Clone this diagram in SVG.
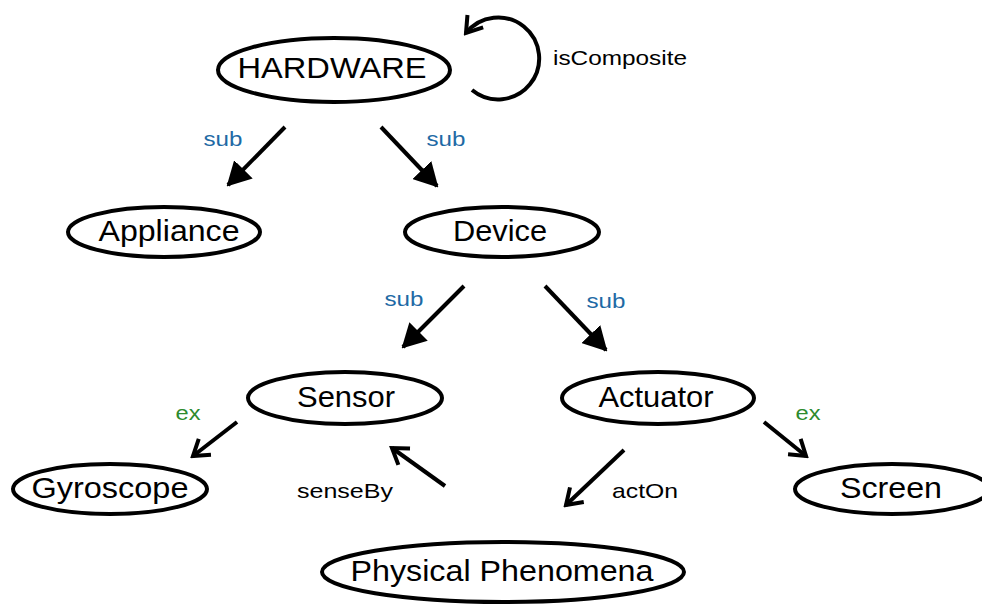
<svg xmlns="http://www.w3.org/2000/svg" width="982" height="607" viewBox="0 0 982 607">
<style>
.node ellipse{fill:#fff;stroke:#000;stroke-width:4}
.node text{font-family:"Liberation Sans",Arial,sans-serif;font-size:30px;text-anchor:middle;dominant-baseline:central;fill:#000}
.edge{stroke:#000;stroke-width:4;fill:none}
.lbl{font-family:"Liberation Sans",Arial,sans-serif;font-size:21px;dominant-baseline:central;text-anchor:middle}
.sub{fill:#1f6aa5}
.ex{fill:#2e8b2e}
.rel{fill:#000}
</style>
<defs>
<marker id="fill" viewBox="0 0 24 26" refX="22" refY="13" markerWidth="24" markerHeight="26" markerUnits="userSpaceOnUse" orient="auto">
<path d="M0,0 L24,13 L0,26 Z" fill="#000"/>
</marker>
<marker id="open" viewBox="0 0 20 24" refX="17" refY="12" markerWidth="20" markerHeight="24" markerUnits="userSpaceOnUse" orient="auto">
<path d="M2,2 L17,12 L2,22" fill="none" stroke="#000" stroke-width="4" stroke-linejoin="miter"/>
</marker>
</defs>
<g id="connectors">
<path class="edge" d="M472 90 A41 41 0 1 0 466 33" marker-end="url(#open)"/>
<line class="edge" x1="285" y1="127" x2="228" y2="185" marker-end="url(#fill)"/>
<line class="edge" x1="381" y1="127" x2="437" y2="186" marker-end="url(#fill)"/>
<line class="edge" x1="464" y1="286" x2="403" y2="347" marker-end="url(#fill)"/>
<line class="edge" x1="545" y1="286" x2="606" y2="350" marker-end="url(#fill)"/>
<line class="edge" x1="237" y1="422" x2="193" y2="456" marker-end="url(#open)"/>
<line class="edge" x1="764" y1="422" x2="806" y2="456" marker-end="url(#open)"/>
<line class="edge" x1="445" y1="486" x2="392" y2="448" marker-end="url(#open)"/>
<line class="edge" x1="624" y1="450" x2="566" y2="505" marker-end="url(#open)"/>
<text class="lbl rel" x="620" y="57" textLength="134" lengthAdjust="spacingAndGlyphs">isComposite</text>
<text class="lbl sub" x="223" y="138" textLength="39" lengthAdjust="spacingAndGlyphs">sub</text>
<text class="lbl sub" x="446" y="138" textLength="39" lengthAdjust="spacingAndGlyphs">sub</text>
<text class="lbl sub" x="404" y="298" textLength="39" lengthAdjust="spacingAndGlyphs">sub</text>
<text class="lbl sub" x="606" y="300" textLength="39" lengthAdjust="spacingAndGlyphs">sub</text>
<text class="lbl ex" x="188" y="412" textLength="25" lengthAdjust="spacingAndGlyphs">ex</text>
<text class="lbl ex" x="808" y="412" textLength="25" lengthAdjust="spacingAndGlyphs">ex</text>
<text class="lbl rel" x="345" y="490" textLength="96" lengthAdjust="spacingAndGlyphs">senseBy</text>
<text class="lbl rel" x="645" y="490" textLength="66" lengthAdjust="spacingAndGlyphs">actOn</text>
</g>
<g id="hardware" class="node"><ellipse cx="334" cy="70" rx="116" ry="32"/><text x="332" y="67" textLength="189" lengthAdjust="spacingAndGlyphs">HARDWARE</text></g>
<g id="appliance" class="node"><ellipse cx="164" cy="232" rx="96" ry="25"/><text x="169" y="230" textLength="141" lengthAdjust="spacingAndGlyphs">Appliance</text></g>
<g id="device" class="node"><ellipse cx="502" cy="232" rx="97" ry="25"/><text x="500" y="230" textLength="94" lengthAdjust="spacingAndGlyphs">Device</text></g>
<g id="sensor" class="node"><ellipse cx="345" cy="398" rx="97" ry="26"/><text x="346" y="396" textLength="98" lengthAdjust="spacingAndGlyphs">Sensor</text></g>
<g id="actuator" class="node"><ellipse cx="658" cy="398" rx="96" ry="26"/><text x="656" y="396" textLength="115" lengthAdjust="spacingAndGlyphs">Actuator</text></g>
<g id="gyroscope" class="node"><ellipse cx="110" cy="489" rx="97" ry="25"/><text x="110" y="487" textLength="157" lengthAdjust="spacingAndGlyphs">Gyroscope</text></g>
<g id="screen" class="node"><ellipse cx="892" cy="489" rx="97" ry="25"/><text x="891" y="487" textLength="102" lengthAdjust="spacingAndGlyphs">Screen</text></g>
<g id="phenomena" class="node"><ellipse cx="503" cy="572" rx="181" ry="30"/><text x="502" y="570" textLength="303" lengthAdjust="spacingAndGlyphs">Physical Phenomena</text></g>
</svg>
